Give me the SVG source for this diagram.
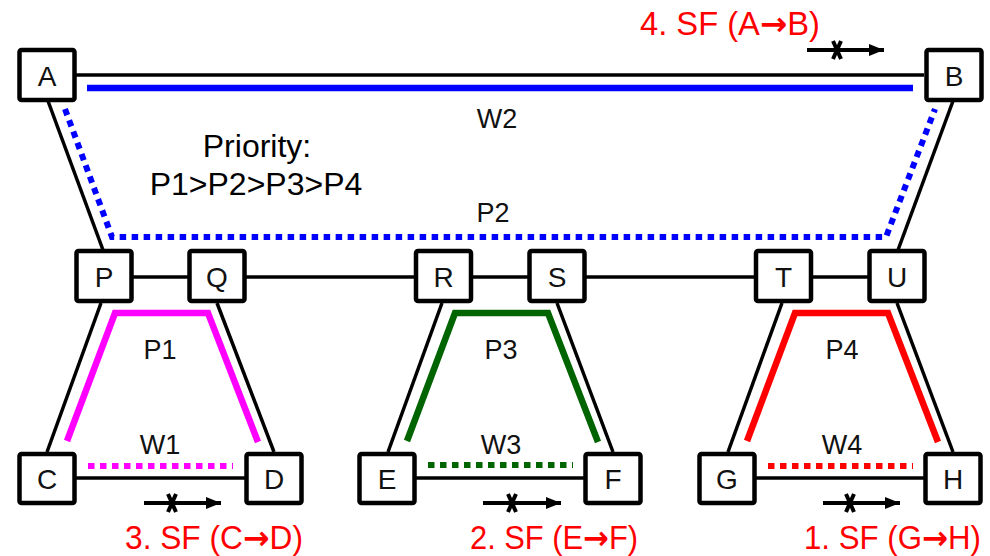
<svg xmlns="http://www.w3.org/2000/svg" width="990" height="556" viewBox="0 0 990 556">
  <defs>
    <marker id="head" viewBox="0 0 15 12" refX="15" refY="6" markerWidth="15" markerHeight="12" markerUnits="userSpaceOnUse" orient="auto">
      <path d="M0,0 L15,6 L0,12 Z" fill="#000"/>
    </marker>
  </defs>
  <style>
    .link { stroke: #000; stroke-width: 3.5; fill: none; }
    .box { fill: #fff; stroke: #000; stroke-width: 4.5; }
    .nlabel { font-family: "Liberation Sans", Arial, sans-serif; font-size: 28px; fill: #111; text-anchor: middle; }
    .plabel { font-family: "Liberation Sans", Arial, sans-serif; font-size: 27px; fill: #111; text-anchor: middle; }
    .prio { font-family: "Liberation Sans", Arial, sans-serif; font-size: 32px; fill: #000; text-anchor: middle; }
    .sf { font-family: "Liberation Sans", "DejaVu Sans", sans-serif; font-size: 33px; fill: #ff0000; }
    .arr { font-family: "DejaVu Sans", sans-serif; font-weight: bold; }
    .work { fill: none; stroke-width: 6.5; stroke-linejoin: miter; }
    .prot { fill: none; stroke-width: 6; stroke-dasharray: 6.5 5.5; }
    .fail { stroke: #000; stroke-width: 4; fill: none; }
  </style>

  <!-- physical links -->
  <g id="connectors">
    <line class="link" x1="75" y1="75" x2="924" y2="75"/>
    <line class="link" x1="48" y1="101" x2="103" y2="250"/>
    <line class="link" x1="953" y1="101" x2="898" y2="250"/>
    <line class="link" x1="104" y1="277" x2="897" y2="277"/>
    <!-- ring 1 -->
    <line class="link" x1="101" y1="303" x2="47" y2="452"/>
    <line class="link" x1="217" y1="303" x2="274" y2="452"/>
    <line class="link" x1="47" y1="478" x2="274" y2="478"/>
    <!-- ring 2 -->
    <line class="link" x1="442" y1="303" x2="388" y2="452"/>
    <line class="link" x1="557" y1="303" x2="613" y2="452"/>
    <line class="link" x1="387" y1="478" x2="613" y2="478"/>
    <!-- ring 3 -->
    <line class="link" x1="782" y1="303" x2="728" y2="452"/>
    <line class="link" x1="897" y1="303" x2="953" y2="452"/>
    <line class="link" x1="727" y1="478" x2="953" y2="478"/>

    <!-- working and protection paths -->
    <line class="work" stroke="#0000ff" stroke-width="7" x1="87" y1="88" x2="913" y2="88"/>
    <path class="prot" stroke="#0000ff" d="M65,109 L112,237 L886,237 L935,109"/>

    <path class="work" stroke="#ff00ff" d="M67,441 L115,313 L208,313 L258,442"/>
    <line class="prot" stroke="#ff00ff" x1="88" y1="466" x2="233" y2="466"/>

    <path class="work" stroke="#006400" d="M407,441 L455,313 L548,313 L598,442"/>
    <line class="prot" stroke="#006400" x1="428" y1="465" x2="573" y2="465"/>

    <path class="work" stroke="#ff0000" d="M747,441 L795,313 L888,313 L938,442"/>
    <line class="prot" stroke="#ff0000" x1="768" y1="466" x2="913" y2="466"/>

    <!-- failed transmission arrows -->
    <line class="fail" x1="807" y1="50" x2="884" y2="50" marker-end="url(#head)"/>
    <path class="fail" d="M833,41 L841,59 M841,41 L833,59"/>
    <line class="fail" x1="144" y1="503" x2="221" y2="503" marker-end="url(#head)"/>
    <path class="fail" d="M168,494 L176,512 M176,494 L168,512"/>
    <line class="fail" x1="483" y1="503" x2="561" y2="503" marker-end="url(#head)"/>
    <path class="fail" d="M508,494 L516,512 M516,494 L508,512"/>
    <line class="fail" x1="823" y1="503" x2="900" y2="503" marker-end="url(#head)"/>
    <path class="fail" d="M846,494 L854,512 M854,494 L846,512"/>
  </g>

  <!-- nodes -->
  <g id="node-A"><rect class="box" x="19.5" y="50" width="55" height="50" rx="2"/><text class="nlabel" x="47" y="86">A</text></g>
  <g id="node-B"><rect class="box" x="926.5" y="50" width="55" height="50" rx="2"/><text class="nlabel" x="954" y="86">B</text></g>
  <g id="node-P"><rect class="box" x="76.5" y="251" width="55" height="50" rx="2"/><text class="nlabel" x="104" y="287">P</text></g>
  <g id="node-Q"><rect class="box" x="189.5" y="251" width="55" height="50" rx="2"/><text class="nlabel" x="217" y="287">Q</text></g>
  <g id="node-R"><rect class="box" x="416" y="251" width="55" height="50" rx="2"/><text class="nlabel" x="443.5" y="287">R</text></g>
  <g id="node-S"><rect class="box" x="529.5" y="251" width="55" height="50" rx="2"/><text class="nlabel" x="557" y="287">S</text></g>
  <g id="node-T"><rect class="box" x="756" y="251" width="55" height="50" rx="2"/><text class="nlabel" x="783.5" y="287">T</text></g>
  <g id="node-U"><rect class="box" x="869.5" y="251" width="55" height="50" rx="2"/><text class="nlabel" x="897" y="287">U</text></g>
  <g id="node-C"><rect class="box" x="19.5" y="454" width="55" height="49" rx="2"/><text class="nlabel" x="47" y="489">C</text></g>
  <g id="node-D"><rect class="box" x="246.5" y="454" width="55" height="49" rx="2"/><text class="nlabel" x="274" y="489">D</text></g>
  <g id="node-E"><rect class="box" x="359.5" y="454" width="55" height="49" rx="2"/><text class="nlabel" x="387" y="489">E</text></g>
  <g id="node-F"><rect class="box" x="585.5" y="454" width="55" height="49" rx="2"/><text class="nlabel" x="613" y="489">F</text></g>
  <g id="node-G"><rect class="box" x="699.5" y="454" width="55" height="49" rx="2"/><text class="nlabel" x="727" y="489">G</text></g>
  <g id="node-H"><rect class="box" x="925.5" y="454" width="55" height="49" rx="2"/><text class="nlabel" x="953" y="489">H</text></g>

  <!-- path labels -->
  <g id="labels">
    <text class="plabel" x="497" y="128">W2</text>
    <text class="plabel" x="493" y="222">P2</text>
    <text class="plabel" x="160" y="359">P1</text>
    <text class="plabel" x="160" y="454">W1</text>
    <text class="plabel" x="501" y="359">P3</text>
    <text class="plabel" x="501" y="454">W3</text>
    <text class="plabel" x="842" y="359">P4</text>
    <text class="plabel" x="842" y="454">W4</text>

    <text class="prio" x="257" y="157">Priority:</text>
    <text class="prio" x="256" y="195">P1&gt;P2&gt;P3&gt;P4</text>

    <text class="sf" x="640" y="35" textLength="180" lengthAdjust="spacingAndGlyphs">4. SF (A<tspan class="arr">→</tspan>B)</text>
    <text class="sf" x="125" y="549" textLength="178" lengthAdjust="spacingAndGlyphs">3. SF (C<tspan class="arr">→</tspan>D)</text>
    <text class="sf" x="470" y="549" textLength="168" lengthAdjust="spacingAndGlyphs">2. SF (E<tspan class="arr">→</tspan>F)</text>
    <text class="sf" x="804" y="549" textLength="177" lengthAdjust="spacingAndGlyphs">1. SF (G<tspan class="arr">→</tspan>H)</text>
  </g>
</svg>
